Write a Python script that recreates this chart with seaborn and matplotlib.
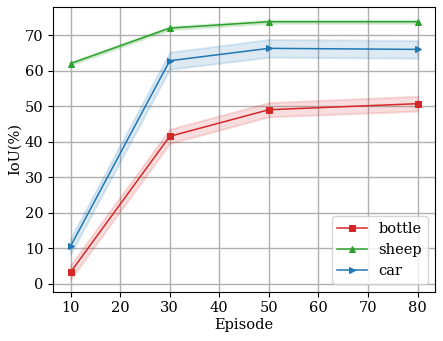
import matplotlib
matplotlib.use("Agg")
import matplotlib.pyplot as plt
import seaborn as sns
import pandas as pd

episodes = [10, 30, 50, 80]
bottle_mean = [3.2, 41.5, 49.0, 50.7]
bottle_std = [2.0, 2.0, 2.0, 2.1]
sheep_mean = [62.0, 72.0, 73.8, 73.8]
sheep_std = [0.45, 0.45, 0.45, 0.45]
car_mean = [10.5, 62.8, 66.3, 66.0]
car_std = [2.2, 2.4, 2.5, 2.5]

series = [("bottle", bottle_mean, bottle_std, "tab:red", "s"),
          ("sheep", sheep_mean, sheep_std, "tab:green", "^"),
          ("car", car_mean, car_std, "tab:blue", ">")]

plt.rcParams['font.family'] = ['DejaVu Serif']
fig, ax = plt.subplots(figsize=(4.43, 3.41), dpi=100)

for name, m, s, c, mk in series:
    df = pd.DataFrame({"Episode": episodes, "IoU": m})
    sns.lineplot(data=df, x="Episode", y="IoU", ax=ax, color=c, marker=mk,
                 markersize=5, markeredgecolor=c, linewidth=1.1, label=name)
    lo = [a - b for a, b in zip(m, s)]
    hi = [a + b for a, b in zip(m, s)]
    ax.fill_between(episodes, lo, hi, color=c, alpha=0.15, linewidth=1.5, edgecolor=c)

ax.set_xticks([10, 20, 30, 40, 50, 60, 70, 80])
ax.set_yticks([0, 10, 20, 30, 40, 50, 60, 70])
ax.set_ylim(-2.25, 78)
ax.set_xlim(6.5, 83.5)
ax.grid(True, color="#b0b0b0", linewidth=1)
ax.set_axisbelow(True)
ax.tick_params(labelsize=10.5)
ax.set_xlabel("Episode", fontsize=10.5, labelpad=2)
ax.set_ylabel("IoU(%)", fontsize=10.5, labelpad=2)
ax.legend(loc="lower right", fontsize=10.5)
fig.subplots_adjust(left=0.12, right=0.982, top=0.98, bottom=0.145)
fig.savefig("out.png", dpi=100)
